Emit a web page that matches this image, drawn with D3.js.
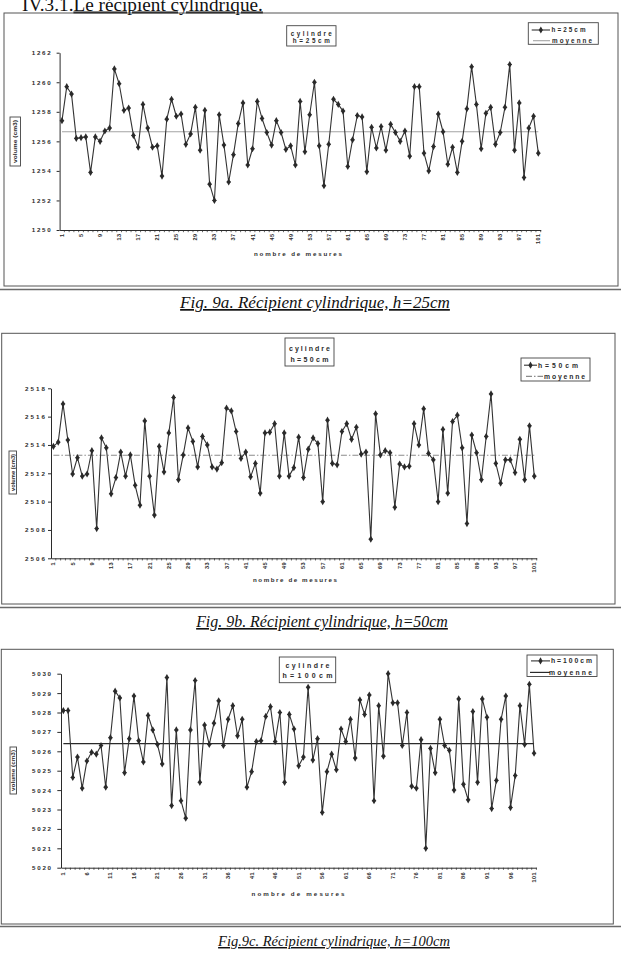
<!DOCTYPE html>
<html><head><meta charset="utf-8">
<script src="https://cdn.jsdelivr.net/npm/d3@7/dist/d3.min.js"></script>
<style>body{margin:0;background:#fff}svg{display:block}</style>
</head><body>
<script>
// ---------------- DATA ----------------
const measures = d3.range(1, 102); // numéro de mesure 1..101

const vol25 = [1257.4,1259.7,1259.2,1256.2,1256.25,1256.3,1253.9,1256.3,1256.0,1256.7,
 1256.9,1260.9,1259.9,1258.1,1258.25,1256.4,1255.6,1258.5,1256.9,1255.6,
 1255.7,1253.65,1257.5,1258.85,1257.7,1257.85,1255.8,1256.5,1258.3,1255.4,
 1258.1,1253.1,1252.0,1257.8,1255.75,1253.25,1255.1,1257.2,1258.6,1254.4,
 1255.5,1258.7,1257.55,1256.6,1255.75,1257.4,1256.6,1255.45,1255.7,1254.4,
 1258.7,1255.3,1257.8,1260.0,1255.7,1253.0,1255.8,1258.85,1258.5,1258.05,
 1254.3,1256.1,1257.75,1257.65,1253.95,1256.95,1255.55,1257.0,1255.4,1257.15,
 1256.6,1256.0,1256.7,1255.0,1259.7,1259.7,1255.2,1254.0,1255.65,1257.85,
 1256.65,1254.45,1255.6,1253.9,1256.0,1258.2,1261.05,1258.5,1255.5,1257.9,
 1258.3,1255.8,1256.6,1258.3,1261.2,1255.4,1258.6,1253.55,1256.9,1257.7,1255.2];

const vol50 = [2513.9,2514.2,2516.9,2514.35,2511.95,2513.1,2511.8,2511.95,2513.6,2508.1,
 2514.5,2513.8,2510.55,2511.7,2513.5,2511.8,2513.3,2511.15,2509.75,2515.7,
 2511.8,2509.05,2513.9,2512.1,2514.85,2517.35,2511.55,2513.3,2515.2,2514.25,
 2512.45,2514.6,2514.0,2512.45,2512.3,2512.75,2516.6,2516.4,2514.95,2513.05,
 2513.5,2511.75,2512.7,2510.6,2514.85,2514.9,2515.5,2511.8,2514.85,2511.8,
 2512.4,2514.55,2511.7,2513.7,2514.5,2514.1,2510.0,2515.75,2512.7,2512.6,
 2514.95,2515.5,2514.4,2515.25,2513.35,2513.5,2507.35,2516.2,2513.3,2513.6,
 2513.45,2509.6,2512.65,2512.45,2512.5,2515.5,2514.0,2516.55,2513.4,2512.95,
 2510.0,2515.1,2510.6,2515.65,2516.1,2513.8,2508.45,2514.7,2513.45,2511.55,
 2514.6,2517.6,2512.7,2511.3,2512.95,2512.95,2512.05,2514.4,2511.55,2515.35,2511.8];

const vol100 = [5028.1,5028.1,5024.65,5025.7,5024.1,5025.5,5025.95,5025.85,5026.3,5024.15,
 5026.7,5029.1,5028.75,5024.9,5026.65,5028.85,5026.55,5025.45,5027.85,5027.1,
 5026.35,5025.35,5029.8,5023.2,5027.1,5023.45,5022.55,5027.1,5029.65,5024.4,
 5027.35,5026.35,5027.45,5028.6,5026.3,5027.65,5028.35,5026.8,5027.65,5024.15,
 5024.95,5026.5,5026.55,5027.8,5028.3,5026.5,5028.0,5024.4,5027.9,5027.15,
 5025.25,5025.7,5029.3,5025.55,5026.65,5022.85,5024.95,5025.85,5025.05,5027.15,
 5026.5,5027.65,5025.65,5028.65,5027.9,5028.9,5023.45,5028.35,5025.75,5030.0,
 5028.5,5028.5,5026.3,5028.0,5024.2,5024.1,5026.6,5021.0,5026.15,5024.9,
 5027.65,5026.3,5026.05,5024.0,5028.7,5024.3,5023.5,5028.05,5024.4,5028.7,
 5027.75,5023.05,5024.5,5027.65,5028.85,5023.1,5024.75,5028.35,5026.35,5029.45,5025.9];

const mean25 = 1256.65, mean50 = 2513.27, mean100 = 5026.4;

const yTicks25 = [1250,1252,1254,1256,1258,1260,1262];
const yTicks50 = [2506,2508,2510,2512,2514,2516,2518];
const yTicks100 = [5020,5021,5022,5023,5024,5025,5026,5027,5028,5029,5030];

const xLabels25 = [1,5,9,13,17,21,25,29,33,37,41,45,49,53,57,61,65,69,73,77,81,85,89,93,97,101];
const xLabels50 = [1,5,9,13,17,21,25,29,33,37,41,45,49,53,57,61,65,69,73,77,81,85,89,93,97,101];
const xLabels100 = [1,6,11,16,21,26,31,36,41,46,51,56,61,66,71,76,81,86,91,96,101];

const seriesNames = ["h=25cm","h=50cm","h=100cm"];
const meanName = "moyenne";
const boxLine1 = "cylindre";
const yTitleText = "volume (cm3)";
const xTitleText = "nombre de mesures";
const pageTitleA = "IV.3.1.";
const pageTitleB = "Le récipient cylindrique.";
const captions = ["Fig. 9a. Récipient cylindrique, h=25cm",
                  "Fig. 9b. Récipient cylindrique, h=50cm",
                  "Fig.9c. Récipient cylindrique, h=100cm"];

// ---------------- LAYOUT ----------------
const W = 621, H = 958;
const SANS = "'Liberation Sans', Arial, sans-serif";
const SERIF = "'Liberation Serif', 'Times New Roman', serif";
const INK = "#2b2b2b";

const svg = d3.select("body").append("svg").attr("width", W).attr("height", H);
svg.append("rect").attr("width", W).attr("height", H).attr("fill", "#fff");

function fitFont(sel, target, base) {
  const len = sel.node().getComputedTextLength();
  sel.attr("font-size", base * target / len);
}

// page title (cut at the top edge, as in the scan)
const title = svg.append("text").attr("x", 22).attr("y", 10.5)
  .attr("font-family", SERIF).attr("font-size", 20).attr("fill", "#111");
title.append("tspan").text(pageTitleA);
title.append("tspan").attr("text-decoration", "underline").text(pageTitleB);
fitFont(title, 241, 20);

const charts = [
  {series: vol25, mean: mean25, yTicks: yTicks25, xLabels: xLabels25, name: seriesNames[0], caption: captions[0],
   meanStroke: "#a3a3a3", meanDash: null, meanW: 1.1,
   frame: [4, 13, 618, 286], sep: 289.5, xr: [59.6, 540.7], yr: [230, 52.7], yLabRight: 50.7, yTick: 3, ytw: 19,
   xlabY: 233.5, xTitle: {x: 298, y: 256, w: 88},
   yBox: {x: 10, y: 117, w: 10.5, h: 49},
   annot: {x: 286.7, y: 25.7, w: 49.3, h: 20.3, b1: 35.6, b2: 43, w1: 41, w2: 37, fs: 6.3},
   legend: {x: 528.3, y: 22.7, w: 70, h: 21.6, b1: 32.3, b2: 43, l1: [531.7, 550], l2: [533, 550], t1: 551.5, t2: 552, tw1: 34, tw2: 40, fs: 6.3},
   cap: {y: 308, x1: 180, x2: 450}},
  {series: vol50, mean: mean50, yTicks: yTicks50, xLabels: xLabels50, name: seriesNames[1], caption: captions[1],
   meanStroke: "#8c8c8c", meanDash: "6,2,1.5,2", meanW: 1.1,
   frame: [1.7, 333.3, 615, 604], sep: 607.5, xr: [51, 536.7], yr: [558.3, 388.3], yLabRight: 45, yTick: 3, ytw: 20,
   xlabY: 562, xTitle: {x: 295, y: 582, w: 84},
   yBox: {x: 9, y: 451, w: 7.5, h: 43},
   annot: {x: 285, y: 338, w: 49, h: 28, b1: 350.5, b2: 361.5, w1: 41, w2: 38, fs: 7},
   legend: {x: 521, y: 358, w: 69, h: 23, b1: 367.5, b2: 378.7, l1: [524, 537], l2: [526, 543], t1: 538, t2: 544, tw1: 40, tw2: 41, fs: 6.8},
   cap: {y: 627, x1: 196, x2: 448}},
  {series: vol100, mean: mean100, yTicks: yTicks100, xLabels: xLabels100, name: seriesNames[2], caption: captions[2],
   meanStroke: "#2a2a2a", meanDash: null, meanW: 1.2,
   frame: [1.3, 649.3, 613.3, 924], sep: 926.5, xr: [61, 536.4], yr: [867.7, 673.7], yLabRight: 51, yTick: 3.7, ytw: 19,
   xlabY: 872, xTitle: {x: 298, y: 895.5, w: 93},
   yBox: {x: 10, y: 747, w: 6.5, h: 47},
   annot: {x: 279.3, y: 657, w: 56.4, h: 25.7, b1: 667.5, b2: 677.7, w1: 44, w2: 50, fs: 7},
   legend: {x: 527, y: 655, w: 70, h: 21.5, b1: 663.2, b2: 674.7, l1: [531, 550], l2: [530, 550], t1: 551, t2: 549, tw1: 41, tw2: 43, fs: 6.8},
   cap: {y: 946, x1: 218, x2: 450}}
];

function spacedText(g, x, y, str, fs, tw, anchor) {
  const t = g.append("text").attr("x", x).attr("y", y).attr("font-family", SANS)
    .attr("font-weight", "bold").attr("font-size", fs).attr("fill", INK)
    .attr("text-anchor", anchor || "start").text(str);
  if (tw) t.attr("textLength", tw).attr("lengthAdjust", "spacing");
  return t;
}

const marker = d3.symbol().type(d3.symbolDiamond).size(15);

charts.forEach(c => {
  const g = svg.append("g");
  const [fx0, fy0, fx1, fy1] = c.frame;
  // frame + scan separator line
  g.append("rect").attr("x", fx0).attr("y", fy0).attr("width", fx1 - fx0).attr("height", fy1 - fy0)
    .attr("fill", "none").attr("stroke", "#555").attr("stroke-width", 1);
  g.append("line").attr("x1", 0).attr("x2", W).attr("y1", c.sep).attr("y2", c.sep)
    .attr("stroke", "#6a6a6a").attr("stroke-width", 1.6);

  const x = d3.scalePoint().domain(measures).range(c.xr).padding(0.5);
  const xb = d3.scaleBand().domain(measures).range(c.xr);
  const y = d3.scaleLinear().domain([c.yTicks[0], c.yTicks[c.yTicks.length - 1]]).range(c.yr);

  // y axis
  const ya = g.append("g").attr("transform", `translate(${c.xr[0]},0)`)
    .call(d3.axisLeft(y).tickValues(c.yTicks).tickSize(c.yTick).tickSizeOuter(0)
      .tickPadding(c.xr[0] - c.yTick - c.yLabRight).tickFormat(d3.format("d")));
  ya.select(".domain").attr("stroke", INK).attr("stroke-width", 1);
  ya.selectAll(".tick line").attr("stroke", INK);
  ya.selectAll(".tick text").attr("font-family", SANS).attr("font-weight", "bold").attr("font-size", 6.2)
    .attr("fill", INK).attr("textLength", c.ytw).attr("lengthAdjust", "spacing");

  // x axis: ticks at every category boundary, labels rotated
  const xa = g.append("g").attr("transform", `translate(0,${c.yr[0]})`)
    .call(d3.axisBottom(xb).tickSize(2.2).tickSizeOuter(0).tickFormat(""));
  xa.select(".domain").attr("stroke", INK).attr("stroke-width", 1);
  xa.selectAll(".tick").attr("transform", d => `translate(${xb(d) + xb.step()},0)`);
  xa.selectAll(".tick line").attr("stroke", INK).attr("stroke-width", 0.7);
  g.append("g").selectAll("text").data(c.xLabels).join("text")
    .attr("transform", d => `translate(${x(d) + 2},${c.xlabY}) rotate(-90)`)
    .attr("text-anchor", "end").attr("font-family", SANS).attr("font-weight", "bold")
    .attr("font-size", 5.6).attr("letter-spacing", 0.4).attr("fill", INK).text(d => d);

  // axis titles
  spacedText(g, c.xTitle.x, c.xTitle.y, xTitleText, 6.2, c.xTitle.w, "middle");
  g.append("rect").attr("x", c.yBox.x).attr("y", c.yBox.y).attr("width", c.yBox.w).attr("height", c.yBox.h)
    .attr("fill", "#fff").attr("stroke", "#444").attr("stroke-width", 0.9);
  g.append("text").attr("transform", `translate(${c.yBox.x + c.yBox.w / 2 + 2},${c.yBox.y + c.yBox.h / 2}) rotate(-90)`)
    .attr("text-anchor", "middle").attr("font-family", SANS).attr("font-weight", "bold")
    .attr("font-size", 5.6).attr("fill", INK).attr("textLength", c.yBox.h - 6).attr("lengthAdjust", "spacingAndGlyphs")
    .text(yTitleText);

  // mean line
  g.append("line").attr("x1", x(measures[0])).attr("x2", x(measures[measures.length - 1]))
    .attr("y1", y(c.mean)).attr("y2", y(c.mean))
    .attr("stroke", c.meanStroke).attr("stroke-width", c.meanW).attr("stroke-dasharray", c.meanDash);

  // series line + markers
  const line = d3.line().x((d, i) => x(measures[i])).y(d => y(d));
  g.append("path").datum(c.series).attr("d", line).attr("fill", "none")
    .attr("stroke", "#333").attr("stroke-width", 1.1).attr("stroke-linejoin", "round");
  g.append("g").selectAll("path").data(c.series).join("path")
    .attr("transform", (d, i) => `translate(${x(measures[i])},${y(d)})`)
    .attr("d", marker).attr("fill", "#2a2a2a");
  g.append("g").selectAll("line").data(c.series).join("line")
    .attr("x1", (d, i) => x(measures[i]) - 2.2).attr("x2", (d, i) => x(measures[i]) + 2.2)
    .attr("y1", d => y(d)).attr("y2", d => y(d)).attr("stroke", "#2a2a2a").attr("stroke-width", 0.9);

  // annotation box
  const a = c.annot;
  g.append("rect").attr("x", a.x).attr("y", a.y).attr("width", a.w).attr("height", a.h)
    .attr("fill", "#fff").attr("stroke", "#444").attr("stroke-width", 0.9);
  spacedText(g, a.x + a.w / 2, a.b1, boxLine1, a.fs, a.w1, "middle");
  spacedText(g, a.x + a.w / 2, a.b2, c.name, a.fs, a.w2, "middle");

  // legend
  const L = c.legend;
  g.append("rect").attr("x", L.x).attr("y", L.y).attr("width", L.w).attr("height", L.h)
    .attr("fill", "#fff").attr("stroke", "#444").attr("stroke-width", 0.9);
  const r1 = L.b1 - 2.3, r2 = L.b2 - 2.3;
  g.append("line").attr("x1", L.l1[0]).attr("x2", L.l1[1]).attr("y1", r1).attr("y2", r1)
    .attr("stroke", "#333").attr("stroke-width", 1.1);
  g.append("path").attr("transform", `translate(${(L.l1[0] + L.l1[1]) / 2},${r1})`).attr("d", marker).attr("fill", "#2a2a2a");
  spacedText(g, L.t1, L.b1, c.name, L.fs, L.tw1);
  g.append("line").attr("x1", L.l2[0]).attr("x2", L.l2[1]).attr("y1", r2).attr("y2", r2)
    .attr("stroke", c.meanStroke).attr("stroke-width", c.meanW).attr("stroke-dasharray", c.meanDash);
  spacedText(g, L.t2, L.b2, meanName, L.fs, L.tw2);

  // caption
  const cap = svg.append("text").attr("x", (c.cap.x1 + c.cap.x2) / 2).attr("y", c.cap.y)
    .attr("text-anchor", "middle").attr("font-family", SERIF).attr("font-style", "italic")
    .attr("text-decoration", "underline").attr("font-size", 18).attr("fill", "#111").text(c.caption);
  fitFont(cap, c.cap.x2 - c.cap.x1, 18);
});
</script>
</body></html>
